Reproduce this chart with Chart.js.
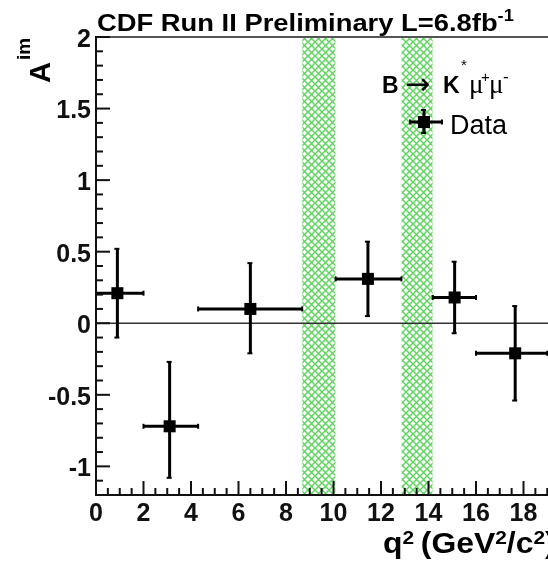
<!DOCTYPE html>
<html>
<head>
<meta charset="utf-8">
<script src="https://cdn.jsdelivr.net/npm/chart.js@4.4.1/dist/chart.umd.min.js"></script>
<style>
  html, body { margin: 0; padding: 0; background: #fff; }
  #wrap { width: 548px; height: 568px; overflow: hidden; }
</style>
</head>
<body>
<div id="wrap"><canvas id="aim" width="600" height="568"></canvas></div>
<script>
// q^2 bins and measured A_im
const q2Center = [0.9, 3.1, 6.5, 11.45, 15.1, 17.65]
const q2Low = [0, 2, 4.3, 10.09, 14.18, 16]
const q2High = [2, 4.3, 8.68, 12.86, 16, 19]
const aIm = [0.21, -0.72, 0.10, 0.31, 0.18, -0.21]
const aImErrUp = [0.31, 0.45, 0.32, 0.26, 0.25, 0.33]
const aImErrDown = [0.31, 0.36, 0.31, 0.26, 0.25, 0.33]

// charmonium veto regions
const vetoLow = [8.68, 12.86]
const vetoHigh = [10.09, 14.18]

const xTicks = [0, 2, 4, 6, 8, 10, 12, 14, 16, 18]
const yTicks = [-1, -0.5, 0, 0.5, 1, 1.5, 2]
const xMin = 0, xMax = 20, yMin = -1.2, yMax = 2

const FONT = '"Liberation Sans", Arial, sans-serif'

// green cross hatch
function hatch() {
  const c = document.createElement('canvas')
  c.width = 7; c.height = 7
  const g = c.getContext('2d')
  g.strokeStyle = '#62d462'
  g.lineWidth = 1.5
  g.beginPath()
  g.moveTo(0, 0); g.lineTo(7, 7)
  g.moveTo(7, 0); g.lineTo(0, 7)
  g.stroke()
  return g.createPattern(c, 'repeat')
}
const hatchFill = hatch()

const bandSets = vetoLow.map((lo, i) => ({
  type: 'line',
  data: [{ x: lo, y: yMax }, { x: vetoHigh[i], y: yMax }],
  fill: { value: yMin },
  backgroundColor: hatchFill,
  borderWidth: 0,
  pointRadius: 0,
  order: 1
}))

function line(ctx, x1, y1, x2, y2) {
  ctx.beginPath()
  ctx.moveTo(x1, y1)
  ctx.lineTo(x2, y2)
  ctx.stroke()
}

function drawCross(ctx, x, y, l, r, t, b) {
  ctx.save()
  ctx.strokeStyle = '#000'
  ctx.lineWidth = 3
  line(ctx, l, y, r, y)
  line(ctx, x, t, x, b)
  ctx.lineWidth = 2
  line(ctx, x - 3, t, x + 2, t)
  line(ctx, x - 3, b, x + 2, b)
  line(ctx, l, y - 2.5, l, y + 2.5)
  line(ctx, r, y - 2.5, r, y + 2.5)
  ctx.restore()
}

// text run with superscripts, stretched a bit in x like the original
function rich(ctx, x, y, sx, parts) {
  ctx.save()
  ctx.translate(x, y)
  ctx.scale(sx, 1)
  ctx.fillStyle = '#000'
  ctx.textBaseline = 'alphabetic'
  let cx = 0
  parts.forEach(p => {
    ctx.font = (p.w || 'bold') + ' ' + p.s + 'px ' + (p.f || FONT)
    ctx.fillText(p.t, cx, p.dy || 0)
    cx += ctx.measureText(p.t).width + (p.gap || 0)
  })
  ctx.restore()
}

const decor = {
  id: 'decor',
  beforeDatasetDraw(chart, args) {
    if (args.index !== 0) return
    const ctx = chart.ctx
    const xs = chart.scales.x, ys = chart.scales.y
    const { left, right } = chart.chartArea
    // zero line
    ctx.save()
    ctx.strokeStyle = '#333'
    ctx.lineWidth = 1.5
    const y0 = ys.getPixelForValue(0)
    line(ctx, left, y0, right, y0)
    ctx.restore()
    // error bars
    aIm.forEach((v, i) => {
      drawCross(ctx,
        xs.getPixelForValue(q2Center[i]), ys.getPixelForValue(v),
        xs.getPixelForValue(q2Low[i]), xs.getPixelForValue(q2High[i]),
        ys.getPixelForValue(v + aImErrUp[i]), ys.getPixelForValue(v - aImErrDown[i]))
    })
  },
  afterDatasetsDraw(chart) {
    const ctx = chart.ctx
    const xs = chart.scales.x, ys = chart.scales.y
    const { left, right, top, bottom } = chart.chartArea
    ctx.save()
    ctx.strokeStyle = '#555'
    ctx.lineWidth = 2
    line(ctx, left, top, right, top)
    ctx.strokeStyle = '#111'
    line(ctx, left, top - 1, left, bottom + 1)
    line(ctx, left - 1, bottom, right, bottom)
    ctx.lineWidth = 2
    for (let i = -12; i <= 20; i++) {
      const py = ys.getPixelForValue(i / 10)
      line(ctx, left, py, left + (i % 5 === 0 ? 14 : 7), py)
    }
    for (let i = 0; i <= 40; i++) {
      const px = xs.getPixelForValue(i / 2)
      line(ctx, px, bottom, px, bottom - (i % 4 === 0 ? 14 : 7))
    }
    ctx.restore()

    // title
    rich(ctx, 97, 31, 1.14, [
      { t: 'CDF Run II Preliminary L=6.8fb', s: 24 },
      { t: '-1', s: 16, dy: -10.5 }
    ])
    // x axis title
    rich(ctx, 383, 553, 1.1, [
      { t: 'q', s: 29 },
      { t: '2', s: 19, dy: -9, gap: -2 },
      { t: ' (GeV', s: 29 },
      { t: '2', s: 19, dy: -9 },
      { t: '/c', s: 29 },
      { t: '2', s: 19, dy: -9 },
      { t: ')', s: 29 }
    ])
    // y axis title, rotated
    ctx.save()
    ctx.translate(50, 83)
    ctx.rotate(-Math.PI / 2)
    rich(ctx, 0, 0, 1, [
      { t: 'A', s: 29, gap: 2 },
      { t: 'im', s: 19, dy: -20 }
    ])
    ctx.restore()

    // legend
    const put = (t, x, y, font) => { ctx.font = font; ctx.fillText(t, x, y) }
    ctx.save()
    ctx.fillStyle = '#000'
    ctx.textBaseline = 'alphabetic'
    put('B', 382, 93, 'bold 23px ' + FONT)
    put('→', 405, 94, '30px "DejaVu Sans", sans-serif')
    put('K', 443, 93, 'bold 23px ' + FONT)
    put('*', 461, 70, '15px ' + FONT)
    put('μ', 469, 93, '27px "Liberation Serif", serif')
    put('+', 481, 82, '15px ' + FONT)
    put('μ', 489, 93, '27px "Liberation Serif", serif')
    put('-', 503, 82, '17px ' + FONT)
    put('Data', 450, 134, '27px ' + FONT)
    ctx.restore()
    drawCross(ctx, 424, 122, 410, 442, 110, 133)
    ctx.fillRect(418, 116, 12, 12)
  }
}

const ctx = document.getElementById('aim')
new Chart(ctx, {
  type: 'scatter',
  data: {
    datasets: [{
      data: q2Center.map((x, i) => ({ x: x, y: aIm[i] })),
      pointStyle: 'rect',
      pointRadius: 8.5,
      pointBackgroundColor: '#000',
      pointBorderWidth: 0,
      order: 0
    }].concat(bandSets)
  },
  options: {
    responsive: false,
    animation: false,
    devicePixelRatio: 1,
    layout: { padding: { top: 37, right: 29, left: 0, bottom: 0 } },
    plugins: {
      legend: { display: false },
      title: { display: false },
      tooltip: { enabled: false }
    },
    scales: {
      x: {
        type: 'linear',
        min: xMin,
        max: xMax,
        afterBuildTicks: s => { s.ticks = xTicks.map(v => ({ value: v })) },
        afterFit: s => { s.height = 73 },
        grid: { display: false, drawTicks: false },
        border: { display: false },
        ticks: {
          padding: 4,
          maxRotation: 0,
          color: '#111',
          callback: v => String(v),
          font: { family: FONT, weight: 'bold', size: 25 }
        }
      },
      y: {
        min: yMin,
        max: yMax,
        afterBuildTicks: s => { s.ticks = yTicks.map(v => ({ value: v })) },
        afterFit: s => { s.width = 96 },
        grid: { display: false, drawTicks: false },
        border: { display: false },
        ticks: {
          padding: 5,
          labelOffset: 3,
          color: '#111',
          callback: v => String(v),
          font: { family: FONT, weight: 'bold', size: 25 }
        }
      }
    }
  },
  plugins: [decor]
})
</script>
</body>
</html>
